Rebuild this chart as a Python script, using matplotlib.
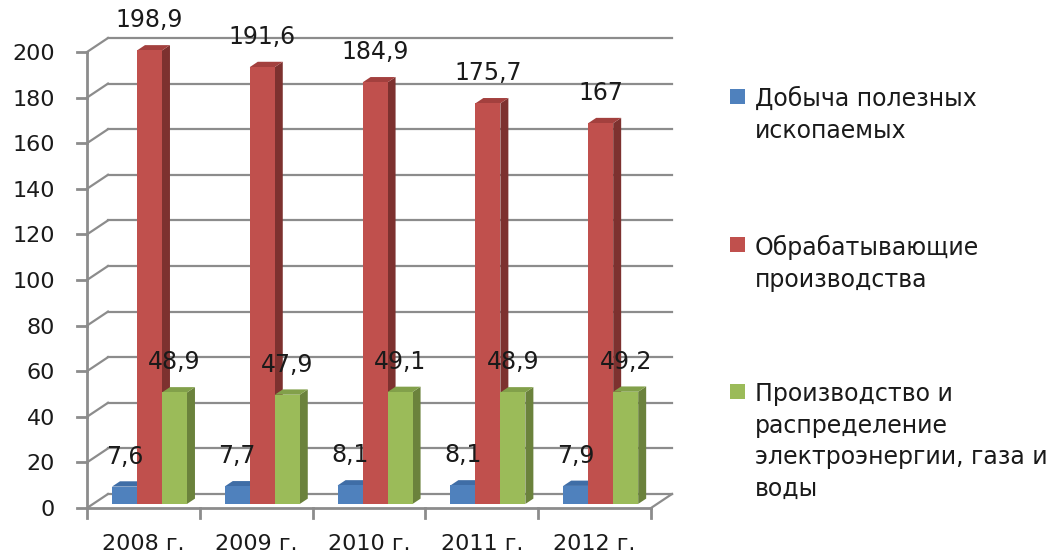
import matplotlib
matplotlib.use("Agg")
from matplotlib import pyplot as plt
from matplotlib.patches import Polygon, Rectangle

# данные
годы = ["2008 г.", "2009 г.", "2010 г.", "2011 г.", "2012 г."]
добыча = [7.6, 7.7, 8.1, 8.1, 7.9]
обработка = [198.9, 191.6, 184.9, 175.7, 167]
энергия = [48.9, 47.9, 49.1, 48.9, 49.2]
подписи_легенды = ["Добыча полезных\nископаемых",
                   "Обрабатывающие\nпроизводства",
                   "Производство и\nраспределение\nэлектроэнергии, газа и\nводы"]
деления_y = [0, 20, 40, 60, 80, 100, 120, 140, 160, 180, 200]

серии = [добыча, обработка, энергия]
цвета = ["#4F81BD", "#C0504D", "#9BBB59"]
бока = ["#385D8A", "#7D312F", "#6B823C"]
верхи = ["#3F6DA6", "#A3403E", "#82A04A"]

W, H = 1052, 553
fig = plt.figure(figsize=(W / 100, H / 100), dpi=100)
# ось: передняя плоскость от x=87 до 651 px, 0..200 от y=508 до 52 px
ax = fig.add_axes([87 / W, (H - 508) / H, 564 / W, 456 / H])
ax.set_xlim(0, len(годы))
ax.set_ylim(0, 200)
ax.axis("off")

px_x = len(годы) / 564.0   # категорий на пиксель
px_y = 200 / 456.0         # единиц на пиксель
DX = 21 * px_x             # глубина
DY = 14 * px_y
серый = "#8C8C8C"

# задняя стенка и левая стенка
for v in деления_y:
    ax.plot([DX, len(годы) + DX], [v + DY, v + DY], color=серый, lw=1.6, clip_on=False, zorder=1)
    ax.plot([0, DX], [v, v + DY], color=серый, lw=1.6, clip_on=False, zorder=1)
    ax.plot([-10 * px_x, 0], [v, v], color=серый, lw=2, clip_on=False, zorder=1)
    ax.text(-32 * px_x, v - 2 * px_y, str(v), ha="right", va="center", fontsize=16, color="#1a1a1a")

# пол
ax.plot([0, len(годы)], [0, 0], color=серый, lw=2, clip_on=False, zorder=1)
ax.plot([len(годы), len(годы) + DX], [0, DY], color=серый, lw=1.6, clip_on=False, zorder=1)
ax.plot([0, 0], [0, 200], color=серый, lw=2, clip_on=False, zorder=1)
for k in range(len(годы) + 1):
    ax.plot([k, k], [0, -10 * px_y], color=серый, lw=2, clip_on=False, zorder=1)
for i, г in enumerate(годы):
    ax.text(i + 0.5, -42 * px_y, г, ha="center", va="baseline", fontsize=16, color="#1a1a1a")

# столбцы
w = 25 * px_x
d0, d1 = 0.29, 0.67
z = 2
for i in range(len(годы)):
    left0 = i + (1 - 3 * w) / 2
    for j, s in enumerate(серии):
        v = s[i]
        xl = left0 + j * w
        xr = xl + w
        fx0, fy0 = d0 * DX, d0 * DY
        fx1, fy1 = d1 * DX, d1 * DY
        ax.add_patch(Polygon([(xr + fx0, fy0), (xr + fx1, fy1), (xr + fx1, v + fy1), (xr + fx0, v + fy0)],
                             closed=True, facecolor=бока[j], edgecolor="none", clip_on=False, zorder=z))
        ax.add_patch(Polygon([(xl + fx0, v + fy0), (xr + fx0, v + fy0), (xr + fx1, v + fy1), (xl + fx1, v + fy1)],
                             closed=True, facecolor=верхи[j], edgecolor="none", clip_on=False, zorder=z))
        ax.add_patch(Rectangle((xl + fx0, fy0), w, v, facecolor=цвета[j], edgecolor="none",
                               clip_on=False, zorder=z + 0.5))
        z += 1
        метка = f"{v:g}".replace(".", ",")
        ax.annotate(метка, (xl + fx0 + w / 2, v + fy0), xytext=(0, 13), textcoords="offset points",
                    ha="center", va="bottom", fontsize=17, color="#1a1a1a", zorder=100,
                    annotation_clip=False)

# легенда
for k, (подпись, цвет) in enumerate(zip(подписи_легенды, цвета)):
    yc = [96, 244, 391][k]
    fig.add_artist(Rectangle((730 / W, 1 - (yc + 7.5) / H), 15 / W, 15 / H, transform=fig.transFigure,
                             facecolor=цвет, edgecolor="none"))
    fig.text(755 / W, 1 - (yc - 9) / H, подпись, ha="left", va="top", fontsize=17,
             linespacing=1.4, color="#1a1a1a")

fig.savefig("out.png", dpi=100)
